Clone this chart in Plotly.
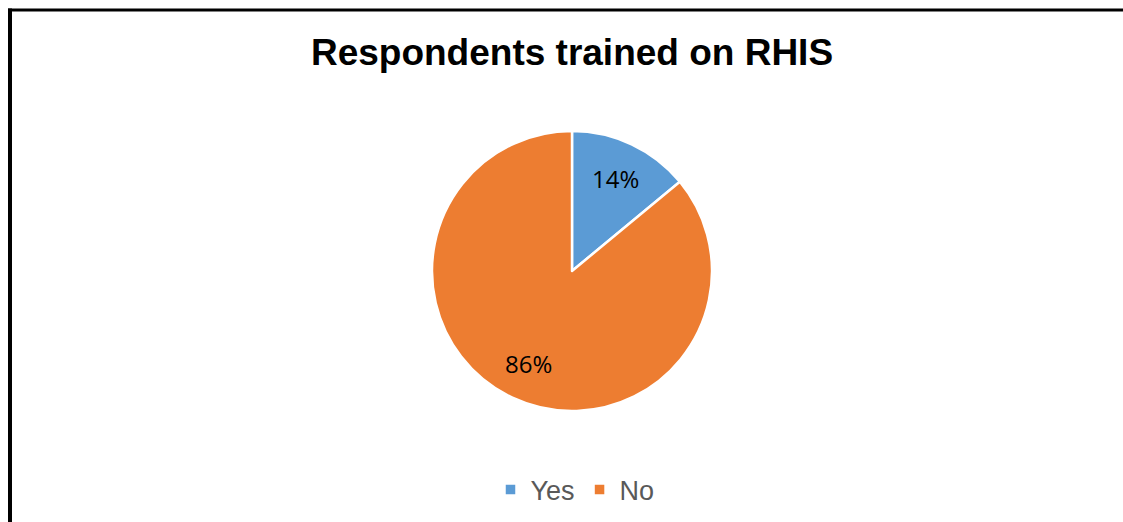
import math
import plotly.graph_objects as go

labels = ["Yes", "No"]
values = [14, 86]
colors = ["#5B9BD5", "#ED7D31"]

W, H = 1123, 522
cx, cy, r = 572, 271, 140
label_r = 0.73

fig = go.Figure(go.Pie(
    labels=labels, values=values,
    marker=dict(colors=colors, line=dict(color="white", width=2.5)),
    sort=False, direction="clockwise", rotation=0,
    textinfo="none",
    domain=dict(x=[(cx - r) / W, (cx + r) / W], y=[(H - cy - r) / H, (H - cy + r) / H]),
    showlegend=True,
))

# data labels at the mid-angle of each slice
total = sum(values)
start = 0.0
annotations = []
for v in values:
    frac = v / total
    mid = (start + frac / 2) * 2 * math.pi
    start += frac
    px = cx + label_r * r * math.sin(mid)
    py = cy - label_r * r * math.cos(mid)
    annotations.append(dict(
        text=f"{round(frac * 100)}%", x=px / W, y=(H - py) / H,
        xref="paper", yref="paper", showarrow=False, xanchor="center", yanchor="middle",
        font=dict(size=24, color="black", family="Open Sans"),
    ))

fig.update_layout(
    width=W, height=H,
    margin=dict(l=0, r=0, t=0, b=0),
    paper_bgcolor="white",
    font=dict(family="Liberation Sans, Arial, sans-serif"),
    title=dict(text="<b>Respondents trained on RHIS</b>", x=cx / W, xanchor="center",
               y=(H - 52) / H, yanchor="middle",
               font=dict(size=37, color="black", family="Liberation Sans, Arial, sans-serif")),
    legend=dict(orientation="h", x=(cx + 3) / W, xanchor="center", y=(H - 490) / H, yanchor="middle",
                font=dict(size=27, color="#595959", family="Liberation Sans, Arial, sans-serif"),
                itemwidth=30, traceorder="normal"),
    annotations=annotations,
    shapes=[
        dict(type="line", xref="paper", yref="paper", x0=8 / W, x1=1, y0=(H - 10) / H, y1=(H - 10) / H,
             line=dict(color="black", width=3)),
        dict(type="line", xref="paper", yref="paper", x0=10 / W, x1=10 / W, y0=0, y1=(H - 8.5) / H,
             line=dict(color="black", width=4)),
    ],
)

fig.write_html("out.html", config={"displayModeBar": False},
               post_script="document.body.style.margin='0';document.body.style.padding='0';")
